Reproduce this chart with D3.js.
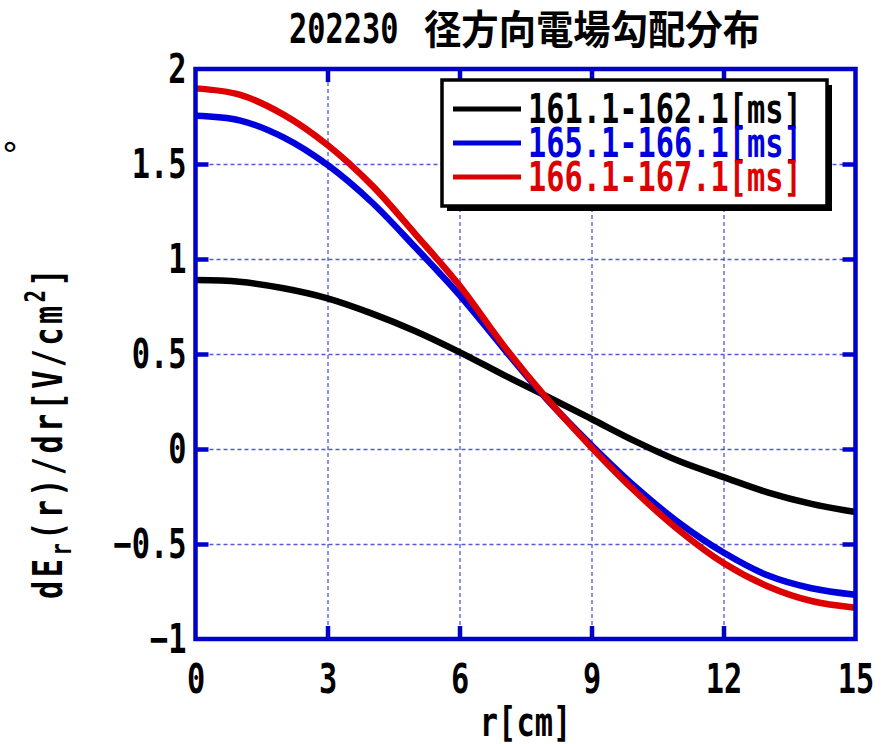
<!DOCTYPE html>
<html>
<head>
<meta charset="utf-8">
<script src="https://cdn.jsdelivr.net/npm/d3@7"></script>
<style>
  body { margin: 0; background: #fff; }
  svg { display: block; }
</style>
</head>
<body>
<svg id="chart" width="882" height="744"></svg>
<script>
// Radial position r [cm]
const radius = [0, 1, 2, 3, 4, 5, 6, 7, 8, 9, 10, 11, 12, 13, 14, 15];

// dEr(r)/dr [V/cm^2] for each time window
const grad161 = [0.889, 0.880, 0.846, 0.793, 0.714, 0.620, 0.510, 0.390, 0.275, 0.158, 0.040, -0.065, -0.148, -0.228, -0.289, -0.332];
const grad165 = [1.754, 1.730, 1.640, 1.495, 1.300, 1.060, 0.810, 0.530, 0.258, 0.020, -0.200, -0.390, -0.545, -0.665, -0.733, -0.767];
const grad166 = [1.898, 1.865, 1.760, 1.600, 1.390, 1.130, 0.860, 0.545, 0.262, 0.008, -0.225, -0.430, -0.600, -0.722, -0.800, -0.835];

const seriesLabels = ["161.1-162.1[ms]", "165.1-166.1[ms]", "166.1-167.1[ms]"];
const seriesColors = ["#000000", "#0000dd", "#dd0000"];

const xTicks = [0, 3, 6, 9, 12, 15];
const xTickLabels = ["0", "3", "6", "9", "12", "15"];
const yTicks = [-1, -0.5, 0, 0.5, 1, 1.5, 2];
const yTickLabels = ["−1", "−0.5", "0", "0.5", "1", "1.5", "2"];

const titleNumber = "202230";
const titleText = "径方向電場勾配分布";
const xTitle = "r[cm]";

(function drawChart() {
  const series = [grad161, grad165, grad166].map((vals, i) => ({
    label: seriesLabels[i],
    color: seriesColors[i],
    points: radius.map((r, j) => ({ r, v: vals[j] }))
  }));

  // ---- layout ----
  const svg = d3.select("#chart");
  const pL = 195.5, pR = 855.5, pT = 69, pB = 639;
  const x = d3.scaleLinear().domain([0, 15]).range([pL, pR]);
  const y = d3.scaleLinear().domain([-1, 2]).range([pB, pT]);

  const MONO = "'DejaVu Sans Mono', 'Liberation Mono', monospace";
  const FS = 41;          // main text size
  const SX = 0.74;        // horizontal condensing for the narrow gothic look
  const WEIGHT = "bold";
  const AXIS_BLUE = "#0000cc";

  // ---- grid ----
  const innerX = [3, 6, 9, 12];
  const innerY = [-0.5, 0, 0.5, 1, 1.5];
  const grid = svg.append("g");
  grid.append("g")
    .attr("transform", `translate(0,${pB})`)
    .call(d3.axisBottom(x).tickValues(innerX).tickSize(-(pB - pT)).tickFormat(""));
  grid.append("g")
    .attr("transform", `translate(${pL},0)`)
    .call(d3.axisLeft(y).tickValues(innerY).tickSize(-(pR - pL)).tickFormat(""));
  grid.selectAll(".domain").remove();
  grid.selectAll(".tick line")
    .attr("stroke", "#3a3ad8")
    .attr("stroke-width", 1.3)
    .attr("stroke-dasharray", "4,3")
    .attr("stroke-opacity", 0.85);

  // ---- curves ----
  const line = d3.line()
    .x(d => x(d.r))
    .y(d => y(d.v))
    .curve(d3.curveCatmullRom.alpha(0.5));

  svg.append("g").selectAll("path")
    .data(series)
    .join("path")
    .attr("d", d => line(d.points))
    .attr("fill", "none")
    .attr("stroke", d => d.color)
    .attr("stroke-width", 6.5)
    .attr("stroke-linejoin", "round");

  // ---- frame and inward ticks ----
  const tickLen = 13;
  const ticks = svg.append("g");
  ticks.append("g").attr("transform", `translate(0,${pB})`)
    .call(d3.axisBottom(x).tickValues(innerX).tickSize(-tickLen).tickFormat(""));
  ticks.append("g").attr("transform", `translate(0,${pT})`)
    .call(d3.axisTop(x).tickValues(innerX).tickSize(-tickLen).tickFormat(""));
  ticks.append("g").attr("transform", `translate(${pL},0)`)
    .call(d3.axisLeft(y).tickValues(innerY).tickSize(-tickLen).tickFormat(""));
  ticks.append("g").attr("transform", `translate(${pR},0)`)
    .call(d3.axisRight(y).tickValues(innerY).tickSize(-tickLen).tickFormat(""));
  ticks.selectAll(".domain").remove();
  ticks.selectAll(".tick line").attr("stroke", AXIS_BLUE).attr("stroke-width", 4.5);

  svg.append("rect")
    .attr("x", pL).attr("y", pT)
    .attr("width", pR - pL).attr("height", pB - pT)
    .attr("fill", "none")
    .attr("stroke", AXIS_BLUE)
    .attr("stroke-width", 4.5);

  // ---- tick labels ----
  const xLab = svg.append("g").attr("transform", `translate(0,${pB})`)
    .call(d3.axisBottom(x).tickValues(xTicks).tickSize(0)
      .tickFormat((d, i) => xTickLabels[i]));
  xLab.select(".domain").remove();
  xLab.selectAll("text")
    .attr("y", 54).attr("dy", null)
    .attr("transform", `scale(${SX},1)`)
    .attr("font-family", MONO).attr("font-size", FS).attr("font-weight", WEIGHT)
    .attr("fill", "#000");

  const yLab = svg.append("g").attr("transform", `translate(${pL},0)`)
    .call(d3.axisLeft(y).tickValues(yTicks).tickSize(0)
      .tickFormat((d, i) => yTickLabels[i]));
  yLab.select(".domain").remove();
  yLab.selectAll("text")
    .attr("x", -9 / SX).attr("y", 13).attr("dy", null)
    .attr("transform", `scale(${SX},1)`)
    .attr("font-family", MONO).attr("font-size", FS).attr("font-weight", WEIGHT)
    .attr("fill", "#000");

  // ---- helper for condensed text ----
  function condensed(g, tx, ty, txt, anchor, color) {
    return g.append("text")
      .attr("transform", `translate(${tx},${ty}) scale(${SX},1)`)
      .attr("text-anchor", anchor)
      .attr("font-family", MONO)
      .attr("font-size", FS)
      .attr("font-weight", WEIGHT)
      .attr("fill", color)
      .text(txt);
  }

  // ---- title ----
  condensed(svg, 289, 43, titleNumber, "start", "#000");
  svg.append("text")
    .attr("x", 424).attr("y", 44)
    .attr("font-family", "'Noto Sans CJK JP', sans-serif")
    .attr("font-size", 40)
    .attr("font-weight", "bold")
    .attr("textLength", 336)
    .attr("lengthAdjust", "spacingAndGlyphs")
    .text(titleText);

  // ---- axis titles ----
  condensed(svg, (pL + pR) / 2, 736, xTitle, "middle", "#000");

  const yt = svg.append("text")
    .attr("transform", `translate(62,432) rotate(-90) scale(${SX},1)`)
    .attr("text-anchor", "middle")
    .attr("font-family", MONO)
    .attr("font-size", FS)
    .attr("font-weight", WEIGHT)
    .attr("letter-spacing", 4.5)
    .attr("fill", "#000");
  yt.append("tspan").text("dE");
  yt.append("tspan").attr("font-size", 28).attr("dy", 9).text("r");
  yt.append("tspan").attr("dy", -9).text("(r)/dr[V/cm");
  yt.append("tspan").attr("font-size", 28).attr("dy", -17).text("2");
  yt.append("tspan").attr("dy", 17).text("]");

  // small ring mark at upper left
  svg.append("text")
    .attr("x", 10).attr("y", 167)
    .attr("text-anchor", "middle")
    .attr("font-family", "'DejaVu Sans', sans-serif")
    .attr("font-size", 34)
    .text("°");

  // ---- legend ----
  const lg = svg.append("g");
  const lx = 442, ly = 80, lw = 385, lh = 126;
  lg.append("rect").attr("x", lx + 5).attr("y", ly + 5).attr("width", lw).attr("height", lh).attr("fill", "#000");
  lg.append("rect").attr("x", lx).attr("y", ly).attr("width", lw).attr("height", lh)
    .attr("fill", "#fff").attr("stroke", "#000").attr("stroke-width", 3.5);
  const rowY = [109, 143, 177];
  const rows = lg.selectAll("g.row").data(series).join("g").attr("class", "row");
  rows.append("line")
    .attr("x1", 453).attr("x2", 521)
    .attr("y1", (d, i) => rowY[i]).attr("y2", (d, i) => rowY[i])
    .attr("stroke", d => d.color).attr("stroke-width", 5);
  rows.each(function (d, i) {
    condensed(d3.select(this), 528, rowY[i] + 14, d.label, "start", d.color);
  });
})();
</script>
</body>
</html>
